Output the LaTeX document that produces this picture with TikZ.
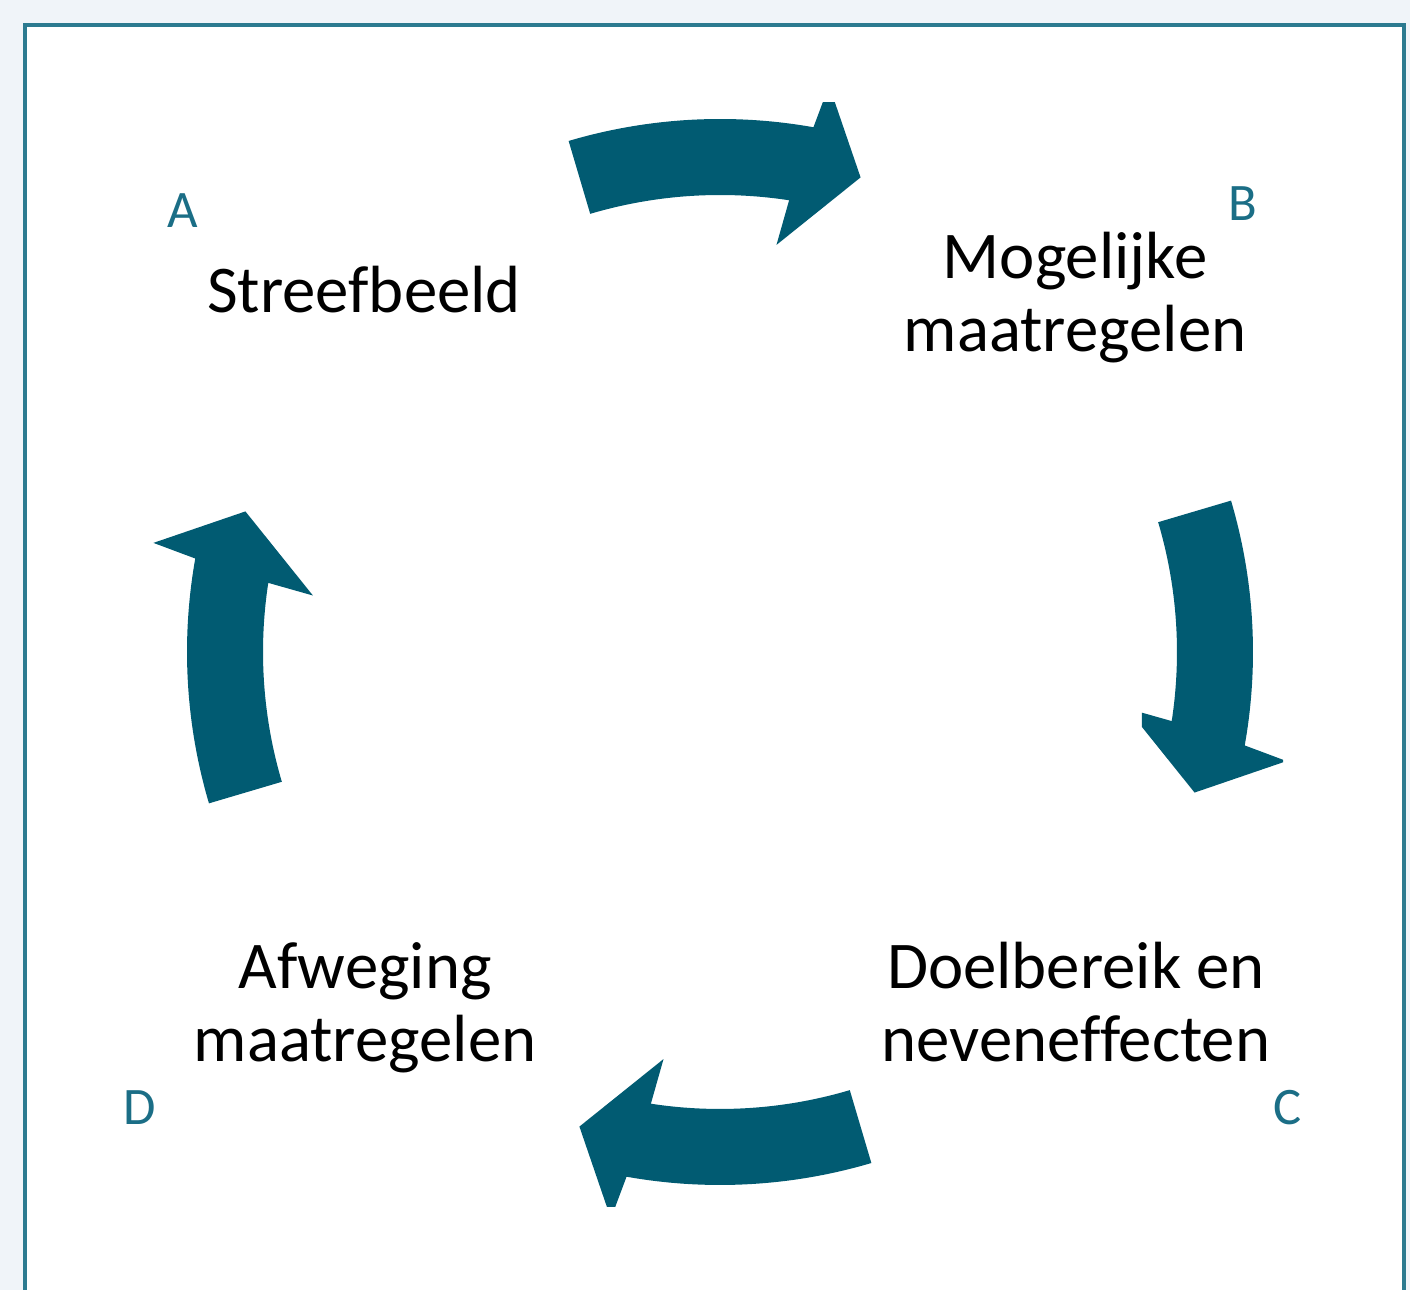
\documentclass[tikz,border=0pt]{standalone}
\usepackage{fontspec}
\setmainfont{Carlito}[Ligatures=NoCommon]
\usetikzlibrary{calc}

\definecolor{arrowteal}{HTML}{015B72}
\definecolor{tagteal}{HTML}{1B6E86}
\definecolor{frameteal}{HTML}{2C7A90}
\definecolor{pagegray}{HTML}{F0F4F9}

\begin{document}
\begin{tikzpicture}[stage/.style={align=center, anchor=base, font=\fontsize{19}{21}\selectfont},
    tag/.style={text=tagteal, anchor=base, font=\fontsize{15}{18}\selectfont},
    cyclearrow/.style={fill=arrowteal}]
    \useasboundingbox (0,0) rectangle (14.1,12.9);
    \fill[pagegray] (0,0) rectangle (14.1,12.9);
    \filldraw[fill=white, draw=frameteal, line width=0.9pt] (0.25,-0.2) rectangle (14.04,12.65);
    \coordinate (c) at (7.20,6.38);

    % vier gebogen pijlen rond het midden
    \foreach \t/\lo/\hi in {106.5/{0,0}/{14.1,11.87}, 16.5/{11.42,0}/{12.83,12.9},
                            -73.5/{0,0.83}/{14.1,12.9}, 196.5/{0,0}/{14.1,12.9}} {
        \begin{scope}
            \clip (\lo) rectangle (\hi);
            \fill[cyclearrow] ($(c)+(\t:5.33)$) arc[start angle=\t, end angle=\t-26.6, radius=5.33cm]
                -- ($(c)+(\t-27.4:5.77)$) -- ($(c)+(\t-33:4.95)$) -- ($(c)+(\t-24.4:4.11)$)
                -- ($(c)+(\t-25.2:4.57)$) arc[start angle=\t-25.2, end angle=\t, radius=4.57cm] -- cycle;
        \end{scope}
    }

    % base = basislijn van de onderste regel
    \node[stage] (streef) at (3.64,9.77) {Streefbeeld};
    \node[stage] (mogelijk) at (10.75,9.38) {Mogelijke\\maatregelen};
    \node[stage] (doel) at (10.76,2.28) {Doelbereik en\\neveneffecten};
    \node[stage] (afweging) at (3.65,2.28) {Afweging\\maatregelen};

    \node[tag] (tagA) at (1.83,10.62) {A};
    \node[tag] (tagB) at (12.43,10.69) {B};
    \node[tag] (tagC) at (12.88,1.65) {C};
    \node[tag] (tagD) at (1.40,1.65) {D};
\end{tikzpicture}
\end{document}
